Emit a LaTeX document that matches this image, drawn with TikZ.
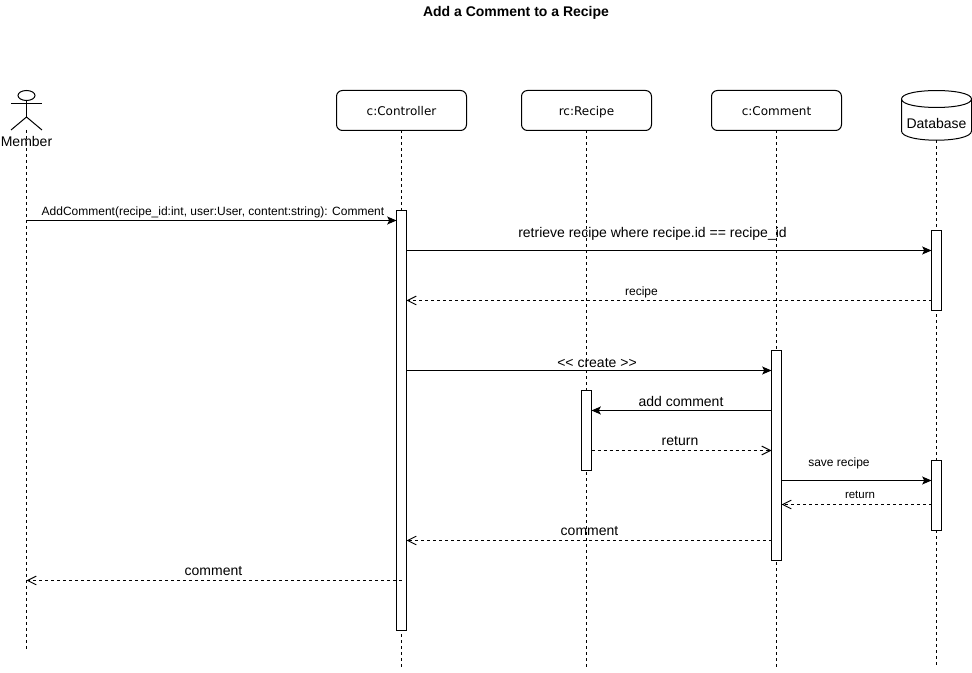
\documentclass[tikz,border=0pt]{standalone}
\usepackage{fontspec}
\setmainfont{Liberation Sans}
\newfontfamily\boxfont{DejaVu Sans}
\usetikzlibrary{arrows.meta,shapes.geometric}
\tikzset{
    lifebox/.style={draw, rounded corners=4.5pt, minimum width=97.5pt, minimum height=30pt, inner sep=0pt, outer sep=0pt, text height=8pt, text depth=1.2pt, font=\boxfont\fontsize{9}{11}\selectfont},
    dbshape/.style={minimum width=52.5pt, minimum height=37.5pt, inner sep=0pt, outer sep=0pt},
    lifeline/.style={dash pattern=on 2.25pt off 2.25pt},
    bar/.style={draw, fill=white, minimum width=7.5pt, inner sep=0pt, outer sep=0pt, anchor=north},
    msg/.style={-{Stealth[length=7pt,width=6pt,inset=1.5pt]}},
    reply/.style={dash pattern=on 2.25pt off 2.25pt, -{Straight Barb[length=6.5pt,width=6.5pt]}},
    lbl/.style={inner sep=0pt, font=\fontsize{10.5}{12}\selectfont},
    smalllbl/.style={inner sep=0pt, font=\fontsize{9}{11}\selectfont},
    tinylbl/.style={inner sep=0pt, font=\fontsize{8.6}{10}\selectfont}
}
\begin{document}
\begin{tikzpicture}[x=0.75pt, y=-0.75pt, line width=0.75pt]
    \useasboundingbox (0,0) rectangle (972,673);
    \node[font=\bfseries\fontsize{10.5}{12}\selectfont, inner sep=0pt] (title) at (516,12.5) {Add a Comment to a Recipe};

    \node[lifebox] (controller) at (401.5,110.5) {c:Controller};
    \node[lifebox] (recipe) at (586.5,110.5) {rc:Recipe};
    \node[lifebox] (comment) at (776.5,110.5) {c:Comment};
    \node[dbshape] (database) at (936.5,115.5) {};
    \draw (901.5,99) .. controls (901.5,87.7) and (971.5,87.7) .. (971.5,99) -- (971.5,131)
        .. controls (971.5,143.3) and (901.5,143.3) .. (901.5,131) -- cycle;
    \draw (901.5,99) .. controls (901.5,110.3) and (971.5,110.3) .. (971.5,99);
    \node[lbl] (dblabel) at (936.5,124) {Database};

    \node[draw, ellipse, minimum width=12.75pt, minimum height=7.5pt, inner sep=0pt, outer sep=0pt] (memberhead) at (26.5,95.5) {};
    \coordinate (memberhip) at (26.5,117);
    \draw (memberhead.south) -- (memberhip);
    \draw (11,104) -- (42,104);
    \draw (11,130) -- (memberhip) -- (42,130);
    \coordinate (memberfoot) at (26.5,130);
    \coordinate (memberend) at (26.5,650);
    \node[lbl] (member) at (26.5,142) {Member};

    \coordinate (bottom) at (0,668);
    \draw[lifeline] (memberfoot) -- (memberend);
    \foreach \n in {controller,recipe,comment,database}
        \draw[lifeline] (\n.south) -- (\n.south |- bottom);

    \node[bar, minimum height=315pt] (ctrlbar) at (401.5,210.5) {};
    \node[bar, minimum height=60pt] (dbbarA) at (936.5,230.5) {};
    \node[bar, minimum height=52.5pt] (dbbarB) at (936.5,460.5) {};
    \node[bar, minimum height=157.5pt] (commentbar) at (776.5,350.5) {};
    \node[bar, minimum height=60pt] (recipebar) at (586.5,390.5) {};

    \coordinate (addstart) at (26.5,220.5);
    \coordinate (fetchstart) at (406.5,250.5);
    \coordinate (fetchback) at (931.5,300.5);
    \coordinate (createstart) at (406.5,370.5);
    \coordinate (addto) at (771.5,410.5);
    \coordinate (returnstart) at (591.5,450.5);
    \coordinate (savestart) at (781.5,480.5);
    \coordinate (saveback) at (931.5,504.5);
    \coordinate (commentback) at (771.5,540.5);
    \coordinate (memberback) at (401.5,580.5);

    \draw[msg] (addstart) -- (addstart -| ctrlbar.west);
    \draw[msg] (fetchstart) -- (fetchstart -| dbbarA.west);
    \draw[reply] (fetchback) -- (fetchback -| ctrlbar.east);
    \draw[msg] (createstart) -- (createstart -| commentbar.west);
    \draw[msg] (addto) -- (addto -| recipebar.east);
    \draw[reply] (returnstart) -- (returnstart -| commentbar.west);
    \draw[msg] (savestart) -- (savestart -| dbbarB.west);
    \draw[reply] (saveback) -- (saveback -| commentbar.east);
    \draw[reply] (commentback) -- (commentback -| ctrlbar.east);
    \draw[reply] (memberback) -- (memberback -| memberfoot);

    \node[smalllbl] (addlabel) at (213,212.5) {AddComment(recipe\_id:int, user:User, content:string): Comment};
    \node[lbl] (fetchlabel) at (652.5,233.5) {retrieve recipe where recipe.id == recipe\_id};
    \node[smalllbl] (fetchbacklabel) at (641.5,292.5) {recipe};
    \node[lbl] (createlabel) at (597,363.5) {<{}< create >{}>};
    \node[lbl] (addcomment) at (681,401.5) {add comment};
    \node[lbl] (returnlabel) at (680,441.5) {return};
    \node[smalllbl] (savelabel) at (839,463.5) {save recipe};
    \node[tinylbl] (savebacklabel) at (860,495) {return};
    \node[lbl] (commentlabel) at (589.5,531.5) {comment};
    \node[lbl] (memberlabel) at (213.5,571.5) {comment};
\end{tikzpicture}
\end{document}
